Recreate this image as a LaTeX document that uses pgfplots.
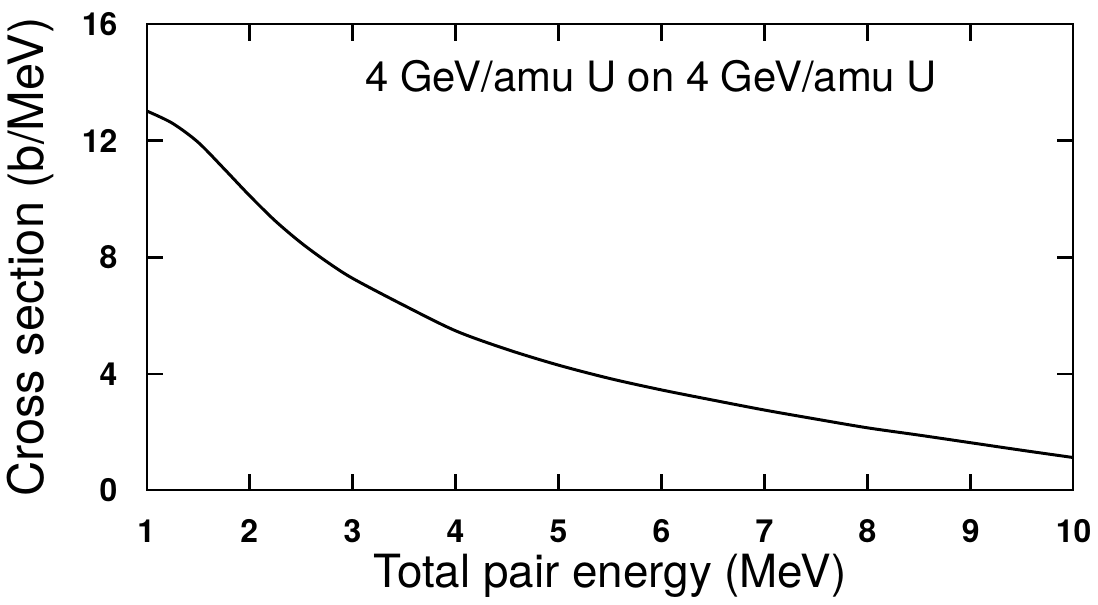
\documentclass[border=0pt]{standalone}
\usepackage{pgfplots}
\pgfplotsset{compat=1.18}
\usepackage{fontspec}
\setmainfont{TeX Gyre Heros}
\begin{document}
\begin{tikzpicture}
\begin{axis}[
  width=466pt, height=234.5pt, scale only axis,
  xmin=1, xmax=10, ymin=0, ymax=16,
  xtick={1,...,10}, ytick={0,4,8,12,16},
  major tick length=0pt,
  xticklabel={\pgfmathparse{int(round(\tick))}\pgfmathresult},
  yticklabel={\pgfmathparse{int(round(\tick))}\pgfmathresult},
  ticklabel style={font=\fontsize{16}{19}\selectfont\bfseries},
  xticklabel style={yshift=-11pt},
  yticklabel style={xshift=-11pt},
  xlabel={Total pair energy (MeV)},
  ylabel={Cross section (b/MeV)},
  xlabel style={font=\fontsize{23}{27}\selectfont, yshift=1pt},
  ylabel style={font=\fontsize{24.5}{28}\selectfont, yshift=7.5pt},
]
\addplot[black, line width=1.5pt, smooth] coordinates {
(1,13.02) (1.25,12.6) (1.5,11.95) (1.75,11.05) (2,10.12) (2.25,9.25) (2.5,8.5)
(2.75,7.85) (3,7.28) (3.5,6.35) (4,5.48) (4.5,4.84) (5,4.3) (5.5,3.84)
(6,3.45) (6.5,3.1) (7,2.76) (7.5,2.45) (8,2.15) (8.5,1.9) (9,1.64)
(9.5,1.38) (10,1.13)};
\node[font=\fontsize{21}{25}\selectfont] at (axis cs:5.9,14.2) {4 GeV/amu U on 4 GeV/amu U};
\draw[line width=1.3pt]
  (axis cs:2,0) -- (axis cs:2,0.58) (axis cs:3,0) -- (axis cs:3,0.58)
  (axis cs:4,0) -- (axis cs:4,0.58) (axis cs:5,0) -- (axis cs:5,0.58)
  (axis cs:6,0) -- (axis cs:6,0.58) (axis cs:7,0) -- (axis cs:7,0.58)
  (axis cs:8,0) -- (axis cs:8,0.58) (axis cs:9,0) -- (axis cs:9,0.58)
  (axis cs:2,16) -- (axis cs:2,15.42) (axis cs:3,16) -- (axis cs:3,15.42)
  (axis cs:4,16) -- (axis cs:4,15.42) (axis cs:5,16) -- (axis cs:5,15.42)
  (axis cs:6,16) -- (axis cs:6,15.42) (axis cs:7,16) -- (axis cs:7,15.42)
  (axis cs:8,16) -- (axis cs:8,15.42) (axis cs:9,16) -- (axis cs:9,15.42)
  (axis cs:1,4) -- (axis cs:1.164,4) (axis cs:1,8) -- (axis cs:1.164,8)
  (axis cs:1,12) -- (axis cs:1.164,12)
  (axis cs:10,4) -- (axis cs:9.836,4) (axis cs:10,8) -- (axis cs:9.836,8)
  (axis cs:10,12) -- (axis cs:9.836,12);
\draw[line width=1.5pt] (rel axis cs:0,0) rectangle (rel axis cs:1,1);
\end{axis}
\path (current axis.north west) ++(0,12pt);
\end{tikzpicture}
\end{document}
